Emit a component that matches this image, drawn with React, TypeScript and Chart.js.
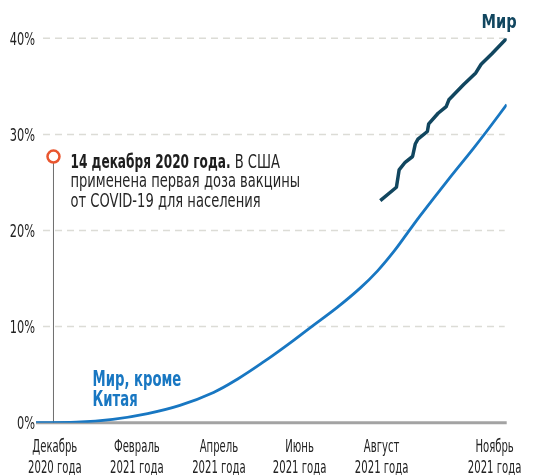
import React, { useEffect, useRef } from "react";
import { Chart, registerables } from "chart.js";

Chart.register(...registerables);

const FONT = "'DejaVu Sans Condensed', 'Liberation Sans Narrow', sans-serif";

// x values are days since 1 December 2020
const tickDays = [14, 75, 136, 196, 257, 341];
const tickLabels = [
  ["Декабрь", "2020 года"],
  ["Февраль", "2021 года"],
  ["Апрель", "2021 года"],
  ["Июнь", "2021 года"],
  ["Август", "2021 года"],
  ["Ноябрь", "2021 года"],
];
const yTicks = [0, 10, 20, 30, 40];

const exChinaDays = [0, 30, 57, 83, 107, 132, 150, 170, 187, 204, 224, 241, 254, 266, 276, 286, 306, 325, 335, 350];
const exChinaValues = [0, 0.05, 0.35, 0.95, 1.8, 3.15, 4.55, 6.4, 8.1, 9.9, 12.0, 14.0, 15.8, 17.8, 19.7, 21.6, 25.2, 28.5, 30.3, 33.1];

const worldDays = [256, 268, 270, 274.5, 280, 282, 284, 291, 292, 299, 305, 307, 318, 327, 331, 339, 350];
const worldValues = [23.1, 24.5, 26.3, 27.1, 27.7, 29.0, 29.5, 30.3, 31.1, 32.2, 32.9, 33.6, 35.2, 36.4, 37.3, 38.4, 40.0];

const eventDay = 13;
const eventValue = 27.7;
const eventBold = "14 декабря 2020 года.";
const eventRest = " В США";
const eventLines = ["применена первая доза вакцины", "от COVID-19 для населения"];

const worldLabel = "Мир";
const exChinaLabel = ["Мир, кроме", "Китая"];
const exChinaLabelDay = 42;
const exChinaLabelValue = 3.8;

const WORLD_COLOR = "#11465f";
const EXCHINA_COLOR = "#1877c2";

function drawText(ctx: any, text: string, x: number, y: number, sx: number, align: string) {
  ctx.save();
  ctx.translate(x, y);
  ctx.scale(sx, 1);
  ctx.textAlign = align;
  ctx.textBaseline = "alphabetic";
  ctx.fillText(text, 0, 0);
  ctx.restore();
}

const decor = {
  id: "decor",
  beforeDatasetsDraw(chart: any) {
    const { ctx, chartArea, scales } = chart;
    const x = scales.x;
    const y = scales.y;
    ctx.save();
    ctx.strokeStyle = "#dcdcd6";
    ctx.lineWidth = 1.5;
    ctx.setLineDash([7, 5]);
    for (const v of yTicks) {
      if (v === 0) continue;
      const py = y.getPixelForValue(v);
      ctx.beginPath();
      ctx.moveTo(chartArea.left + 7, py);
      ctx.lineTo(chartArea.right - 2, py);
      ctx.stroke();
    }
    ctx.setLineDash([]);
    const y0 = y.getPixelForValue(0);
    ctx.strokeStyle = "#a3a3a3";
    ctx.lineWidth = 3;
    ctx.beginPath();
    ctx.moveTo(chartArea.left, y0);
    ctx.lineTo(chartArea.right, y0);
    ctx.stroke();
    const ex = x.getPixelForValue(eventDay);
    const ey = y.getPixelForValue(eventValue);
    ctx.strokeStyle = "#6e6e6e";
    ctx.lineWidth = 1;
    ctx.beginPath();
    ctx.moveTo(ex, ey);
    ctx.lineTo(ex, y0);
    ctx.stroke();
    ctx.restore();
  },
  afterDatasetsDraw(chart: any) {
    const { ctx, chartArea, scales } = chart;
    const x = scales.x;
    const y = scales.y;
    ctx.save();

    // axis tick labels, placed by the scales
    ctx.fillStyle = "#222222";
    ctx.font = `18px ${FONT}`;
    for (const v of yTicks) {
      drawText(ctx, v + "%", chartArea.left - 1, y.getPixelForValue(v) + 6.5, 0.7, "right");
    }
    ctx.font = `17px ${FONT}`;
    tickDays.forEach((d, i) => {
      const px = x.getPixelForValue(d);
      tickLabels[i].forEach((line, j) => {
        drawText(ctx, line, px, chartArea.bottom + 29 + 21 * j, 0.66, "center");
      });
    });

    // event marker
    const ex = x.getPixelForValue(eventDay);
    const ey = y.getPixelForValue(eventValue);
    ctx.beginPath();
    ctx.arc(ex, ey, 6, 0, Math.PI * 2);
    ctx.fillStyle = "#ffffff";
    ctx.fill();
    ctx.strokeStyle = "#e9562f";
    ctx.lineWidth = 2.5;
    ctx.stroke();

    const tx = ex + 17;
    const tb = ey + 11;
    ctx.font = `bold 19px ${FONT}`;
    ctx.fillStyle = "#1e1e1e";
    const bsx = 0.71;
    drawText(ctx, eventBold, tx, tb, bsx, "left");
    const w = ctx.measureText(eventBold).width * bsx;
    ctx.font = `19px ${FONT}`;
    ctx.fillStyle = "#262626";
    drawText(ctx, eventRest, tx + w, tb, 0.766, "left");
    eventLines.forEach((line, i) => drawText(ctx, line, tx, tb + 19.5 * (i + 1), 0.766, "left"));

    // world label
    const wx = x.getPixelForValue(worldDays[worldDays.length - 1]);
    const wy = y.getPixelForValue(worldValues[worldValues.length - 1]);
    ctx.font = `bold 20px ${FONT}`;
    ctx.fillStyle = WORLD_COLOR;
    drawText(ctx, worldLabel, wx + 10, wy - 10, 0.81, "right");

    // ex-China label
    ctx.font = `bold 21px ${FONT}`;
    ctx.fillStyle = EXCHINA_COLOR;
    const lx = x.getPixelForValue(exChinaLabelDay);
    const ly = y.getPixelForValue(exChinaLabelValue);
    exChinaLabel.forEach((line, i) => drawText(ctx, line, lx, ly + 20 * i, 0.7, "left"));
    ctx.restore();
  },
};

export default function App() {
  const ref = useRef<HTMLCanvasElement | null>(null);
  useEffect(() => {
    if (!ref.current) return;
    const chart = new Chart(ref.current, {
      type: "line",
      data: {
        datasets: [
          {
            label: "Мир",
            data: worldDays.map((d, i) => ({ x: d, y: worldValues[i] })),
            borderColor: WORLD_COLOR,
            borderWidth: 3.5,
            pointRadius: 0,
            tension: 0,
            borderJoinStyle: "round",
            fill: false,
          },
          {
            label: "Мир, кроме Китая",
            data: exChinaDays.map((d, i) => ({ x: d, y: exChinaValues[i] })),
            borderColor: EXCHINA_COLOR,
            borderWidth: 2.8,
            pointRadius: 0,
            tension: 0.4,
            fill: false,
          },
        ],
      },
      options: {
        responsive: false,
        animation: false,
        devicePixelRatio: 1,
        layout: { padding: { left: 0, right: 35.3, top: 38.3, bottom: 0 } },
        plugins: { legend: { display: false }, tooltip: { enabled: false } },
        scales: {
          x: {
            type: "linear",
            min: 0,
            max: 350,
            grid: { display: false, drawTicks: false },
            border: { display: false },
            afterBuildTicks: (s: any) => {
              s.ticks = tickDays.map((v) => ({ value: v }));
            },
            afterFit: (s: any) => {
              s.height = 52.3;
            },
            ticks: { display: false },
          },
          y: {
            min: 0,
            max: 40,
            grid: { display: false, drawTicks: false },
            border: { display: false },
            afterBuildTicks: (s: any) => {
              s.ticks = yTicks.map((v) => ({ value: v }));
            },
            afterFit: (s: any) => {
              s.width = 36;
            },
            ticks: { display: false },
          },
        },
      },
      plugins: [decor],
    } as any);
    return () => chart.destroy();
  }, []);
  return (
    <div style={{ position: "absolute", left: 0, top: 0, width: 542, height: 475 }}>
      <canvas ref={ref} width={542} height={475} style={{ width: 542, height: 475, display: "block" }} />
    </div>
  );
}
